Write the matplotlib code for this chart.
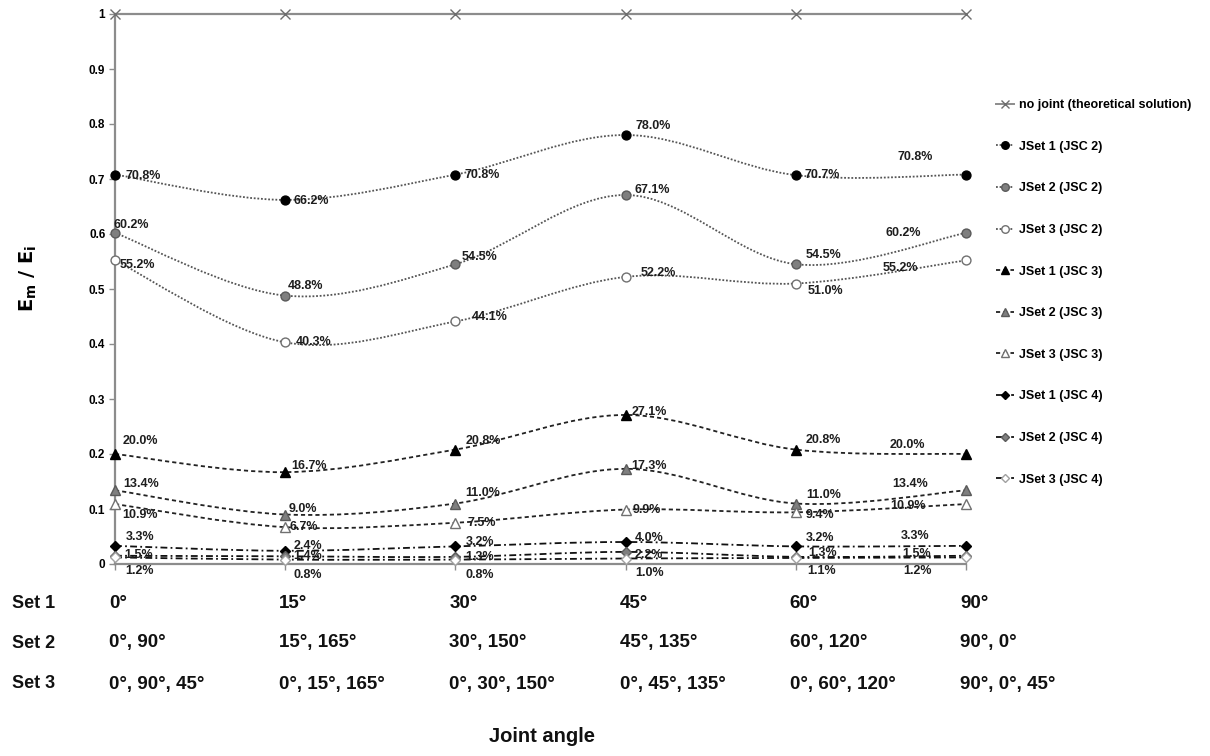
import numpy as np
import matplotlib
matplotlib.use('Agg')
import matplotlib.pyplot as plt
import matplotlib.transforms as mtransforms
from matplotlib.path import Path
from matplotlib.patches import PathPatch
from matplotlib.lines import Line2D

plt.rcParams['font.family'] = ['Liberation Sans', 'DejaVu Sans']

# ---- data -------------------------------------------------------------
row_names = ['Set 1', 'Set 2', 'Set 3']
set1_angles = ['0°', '15°', '30°', '45°', '60°', '90°']
set2_angles = ['0°, 90°', '15°, 165°', '30°, 150°', '45°, 135°', '60°, 120°', '90°, 0°']
set3_angles = ['0°, 90°, 45°', '0°, 15°, 165°', '0°, 30°, 150°', '0°, 45°, 135°',
               '0°, 60°, 120°', '90°, 0°, 45°']

no_joint = [1.0, 1.0, 1.0, 1.0, 1.0, 1.0]
jsc2_set1 = [0.708, 0.662, 0.708, 0.780, 0.707, 0.708]
jsc2_set2 = [0.602, 0.488, 0.545, 0.671, 0.545, 0.602]
jsc2_set3 = [0.552, 0.403, 0.441, 0.522, 0.510, 0.552]
jsc3_set1 = [0.200, 0.167, 0.208, 0.271, 0.208, 0.200]
jsc3_set2 = [0.134, 0.090, 0.110, 0.173, 0.110, 0.134]
jsc3_set3 = [0.109, 0.067, 0.075, 0.099, 0.094, 0.109]
jsc4_set1 = [0.033, 0.024, 0.032, 0.040, 0.032, 0.033]
jsc4_set2 = [0.015, 0.014, 0.013, 0.022, 0.013, 0.015]
jsc4_set3 = [0.012, 0.008, 0.008, 0.010, 0.011, 0.012]

x = np.arange(len(set1_angles))

# ---- styles -----------------------------------------------------------
DOT = (0, (1.0, 1.0))
DASH = (0, (2.3, 1.7))
DASHDOT = (0, (3.8, 1.8, 1.0, 1.8))

series = [
    # label, values, line color, linestyle, marker, ms, face, edge, label offsets (px, +down)
    ('JSet 1 (JSC 2)', jsc2_set1, '#555555', DOT, 'o', 6.4, '#000000', '#000000',
     [(10, 1), (8, 1), (9, 0), (10, -9), (9, 0), (-69, -18)]),
    ('JSet 2 (JSC 2)', jsc2_set2, '#555555', DOT, 'o', 6.4, '#7f7f7f', '#5a5a5a',
     [(-2, -8), (3, -10), (6, -7), (9, -5), (10, -9), (-81, 0)]),
    ('JSet 3 (JSC 2)', jsc2_set3, '#555555', DOT, 'o', 6.4, '#ffffff', '#707070',
     [(5, 5), (11, 0), (16, -4), (15, -4), (12, 8), (-83, 8)]),
    ('JSet 1 (JSC 3)', jsc3_set1, '#222222', DASH, '^', 6.5, '#000000', '#000000',
     [(8, -13), (6, -6), (10, -9), (6, -3), (10, -10), (-76, -9)]),
    ('JSet 2 (JSC 3)', jsc3_set2, '#222222', DASH, '^', 6.5, '#7f7f7f', '#5a5a5a',
     [(8, -6), (3, -6), (10, -11), (6, -3), (10, -8), (-74, -6)]),
    ('JSet 3 (JSC 3)', jsc3_set3, '#222222', DASH, '^', 6.5, '#ffffff', '#707070',
     [(7, 11), (4, 0), (12, 0), (7, 0), (10, 3), (-76, 2)]),
    ('JSet 1 (JSC 4)', jsc4_set1, '#111111', DASHDOT, 'D', 4.8, '#000000', '#000000',
     [(11, -9), (8, -5), (10, -4), (9, -4), (10, -8), (-65, -10)]),
    ('JSet 2 (JSC 4)', jsc4_set2, '#111111', DASHDOT, 'D', 4.8, '#7f7f7f', '#5a5a5a',
     [(9, -1), (8, 0), (10, 0), (9, 3), (12, -4), (-64, -2)]),
    ('JSet 3 (JSC 4)', jsc4_set3, '#111111', DASHDOT, 'D', 4.8, '#ffffff', '#a0a0a0',
     [(10, 14), (8, 15), (10, 15), (10, 15), (11, 13), (-63, 14)]),
]


def smooth_path(xs, ys):
    """Excel-like smoothed line: cubic Bezier segments through the points."""
    pts = np.column_stack([xs, ys]).astype(float)
    n = len(pts)
    verts = [pts[0]]
    codes = [Path.MOVETO]
    for i in range(n - 1):
        p0 = pts[max(i - 1, 0)]
        p1 = pts[i]
        p2 = pts[i + 1]
        p3 = pts[min(i + 2, n - 1)]
        verts += [p1 + (p2 - p0) / 6.0, p2 - (p3 - p1) / 6.0, p2]
        codes += [Path.CURVE4] * 3
    return Path(verts, codes)


fig = plt.figure(figsize=(12.1, 7.56), dpi=100)
ax = fig.add_axes([115 / 1210, 1 - 564 / 756, 851 / 1210, 550 / 756])

# no joint reference line
ax.plot(x, no_joint, color='#8c8c8c', lw=1.6, marker='x', ms=7, mew=1.0,
        mec='#6e6e6e', clip_on=False, zorder=3)

for label, vals, lc, ls, mk, ms, fc, ec, offs in series:
    patch = PathPatch(smooth_path(x, vals), fill=False, edgecolor=lc, lw=1.3,
                      linestyle=ls, transform=ax.transData, zorder=2)
    ax.add_patch(patch)
    ax.plot(x, vals, linestyle='none', marker=mk, ms=ms, mfc=fc, mec=ec, mew=1.0,
            clip_on=False, zorder=4)
    for xi, v, (dx, dy) in zip(x, vals, offs):
        ax.annotate(f'{v * 100:.1f}%', (xi, v), xytext=(dx, -dy),
                    textcoords='offset pixels', ha='left', va='center',
                    fontsize=9, fontweight='bold', color='#1e1e1e', zorder=5,
                    annotation_clip=False)

ax.set_xlim(0, 5)
ax.set_ylim(0, 1)
ax.set_yticks(np.arange(0, 1.01, 0.1))
ax.set_yticklabels(['0', '0.1', '0.2', '0.3', '0.4', '0.5', '0.6', '0.7', '0.8', '0.9', '1'])
ax.set_xticks(x)
ax.set_xticklabels([])
ax.tick_params(axis='y', direction='out', length=4, width=1, color='#8c8c8c',
               labelsize=8.5, pad=3)
ax.tick_params(axis='x', direction='out', length=4, width=1, color='#8c8c8c')
for t in ax.get_yticklabels():
    t.set_fontweight('bold')
for s in ['top', 'right']:
    ax.spines[s].set_visible(False)
for s in ['left', 'bottom']:
    ax.spines[s].set_color('#8c8c8c')
    ax.spines[s].set_linewidth(1.6)

# y label
fig.text(28 / 1210, 1 - 278 / 756, r'$\mathbf{E_m\ /\ E_i}$', rotation=90,
         ha='center', va='center', fontsize=14)

# angle table under the chart
row_y = [1 - 603 / 756, 1 - 643 / 756, 1 - 684 / 756]
blend = mtransforms.blended_transform_factory(ax.transData, fig.transFigure)
for name, ry, labels in zip(row_names, row_y, [set1_angles, set2_angles, set3_angles]):
    fig.text(12 / 1210, ry, name, ha='left', va='center', fontsize=13,
             fontweight='bold', color='#111111')
    for xi, lab in zip(x, labels):
        ax.text(xi - 0.035, ry, lab, transform=blend, ha='left', va='center',
                fontsize=13.5, fontweight='bold', color='#111111', clip_on=False)

fig.text(542 / 1210, 1 - 737 / 756, 'Joint angle', ha='center', va='center',
         fontsize=14.5, fontweight='bold', color='#111111')

# legend
handles = [Line2D([0], [0], color='#8c8c8c', lw=1.4, marker='x', ms=6, mec='#6e6e6e')]
labels = ['no joint (theoretical solution)']
for label, vals, lc, ls, mk, ms, fc, ec, offs in series:
    handles.append(Line2D([0], [0], color=lc, lw=1.3, linestyle=ls, marker=mk,
                          ms=ms * 0.85, mfc=fc, mec=ec))
    labels.append(label)
leg = fig.legend(handles, labels, loc='upper left',
                 bbox_to_anchor=(996 / 1210, 1 - 99 / 756), frameon=False,
                 fontsize=9, handlelength=1.4, handletextpad=0.45,
                 labelspacing=2.37, borderaxespad=0, borderpad=0)
for t in leg.get_texts():
    t.set_fontweight('bold')

fig.savefig('out.png', dpi=100)
